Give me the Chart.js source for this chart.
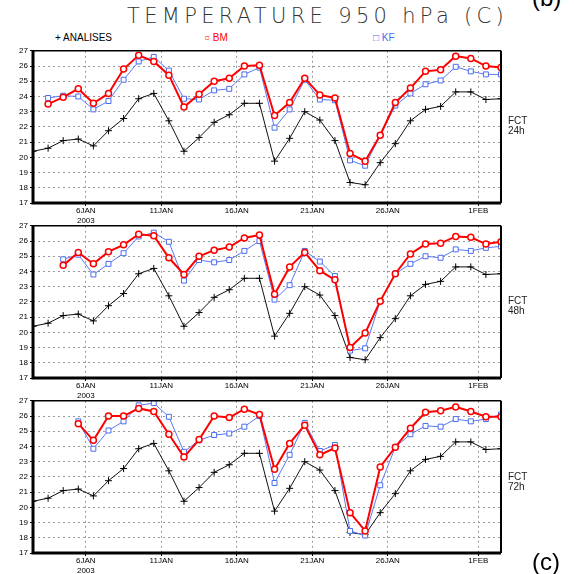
<!DOCTYPE html>
<html>
<head>
<meta charset="utf-8">
<script src="https://cdn.jsdelivr.net/npm/chart.js@4/dist/chart.umd.min.js"></script>
<style>
  body { margin: 0; background: #fff; }
  #page { position: relative; width: 574px; height: 574px; overflow: hidden; font-family: "Liberation Sans", Arial, sans-serif; }
  #page canvas { position: absolute; left: 0; }
  .txt { position: absolute; white-space: nowrap; }
  #title { left: 127px; top: 4px; font-family: "DejaVu Sans", sans-serif; font-weight: 200; font-size: 21px; color: #333; }
  .leg { top: 32px; font-size: 10px; }
  .fct { left: 508px; font-size: 10px; line-height: 10px; color: #222; }
</style>
</head>
<body>
<div id="page">
  <div id="title" class="txt">TEMPERATURE 950 hPa (C)</div>
  <div class="txt" style="left:532px; top:-16px; font-size:24px;">(b)</div>
  <div class="txt leg" style="left:55px; color:#000;">+ ANALISES</div>
  <div class="txt leg" style="left:204px; color:#f00;">&#9675; BM</div>
  <div class="txt leg" style="left:373px; color:#4a6cf0;">&#9633; KF</div>
  <canvas id="p24" width="520" height="181" style="top:44px"></canvas>
  <canvas id="p48" width="520" height="181" style="top:219px"></canvas>
  <canvas id="p72" width="520" height="181" style="top:394px"></canvas>
  <div class="txt fct" style="top:116px;">FCT<br>24h</div>
  <div class="txt fct" style="top:296px;">FCT<br>48h</div>
  <div class="txt fct" style="top:472px;">FCT<br>72h</div>
  <div class="txt" style="left:532px; top:548px; font-size:24px;">(c)</div>
</div>
<script>
// days of Jan 2003 at 12Z (Feb 1 = day 32)
const days = [2.5, 3.5, 4.5, 5.5, 6.5, 7.5, 8.5, 9.5, 10.5, 11.5, 12.5, 13.5, 14.5, 15.5, 16.5, 17.5,
              18.5, 19.5, 20.5, 21.5, 22.5, 23.5, 24.5, 25.5, 26.5, 27.5, 28.5, 29.5, 30.5, 31.5, 32.5, 33.5];
const tickDays = [6, 11, 16, 21, 26, 32];
const tickLabels = [['6JAN', '2003'], '11JAN', '16JAN', '21JAN', '26JAN', '1FEB'];

const analises = [20.4, 20.6, 21.1, 21.2, 20.75, 21.75, 22.55, 23.85, 24.2, 22.4, 20.4, 21.3, 22.3, 22.8, 23.55, 23.55,
                  19.75, 21.25, 23.0, 22.45, 21.1, 18.35, 18.2, 19.65, 20.9, 22.4, 23.15, 23.35, 24.3, 24.3, 23.8, 23.85];

const bm24 = [null, 23.5, 23.95, 24.5, 23.55, 24.2, 25.8, 26.7, 26.3, 25.4, 23.3, 24.15, 25.0, 25.2, 26.0, 26.05,
              22.75, 23.6, 25.2, 24.1, 23.9, 20.25, 19.75, 21.45, 23.6, 24.55, 25.65, 25.75, 26.65, 26.5, 26.0, 25.9];
const kf24 = [null, 23.9, 24.05, 24.0, 23.15, 23.7, 25.1, 26.3, 26.6, 25.7, 23.85, 23.8, 24.4, 24.5, 25.45, 25.9,
              21.95, 23.15, 25.1, 23.8, 23.75, 19.8, 19.45, 21.45, 23.4, 24.2, 24.8, 25.05, 25.95, 25.65, 25.45, 25.45];

const bm48 = [null, null, 24.4, 25.25, 24.5, 25.3, 25.75, 26.45, 26.35, 24.9, 23.8, 25.0, 25.4, 25.6, 26.2, 26.4,
              22.5, 24.3, 25.25, 24.05, 23.45, 19.0, 19.95, 22.05, 23.85, 25.15, 25.8, 25.85, 26.3, 26.25, 25.8, 25.95];
const kf48 = [null, null, 24.8, 25.1, 23.8, 24.5, 25.2, 26.3, 26.55, 25.95, 23.4, 24.75, 24.6, 24.75, 25.35, 26.0,
              22.15, 23.1, 25.35, 24.65, 23.7, 18.8, 18.95, 22.05, 23.85, 24.5, 25.0, 24.9, 25.45, 25.35, 25.55, 25.65];

const bm72 = [null, null, null, 25.5, 24.4, 26.0, 26.0, 26.5, 26.3, 24.8, 23.3, 24.45, 26.0, 25.9, 26.45, 26.1,
              22.5, 24.2, 25.4, 23.45, 23.9, 19.65, 18.45, 22.65, 23.95, 25.2, 26.25, 26.35, 26.6, 26.3, 25.95, 25.95];
const kf72 = [null, null, null, 25.65, 23.85, 25.05, 25.65, 26.7, 26.85, 25.95, 23.65, 24.4, 24.75, 24.85, 25.3, 26.0,
              21.6, 23.45, 25.55, 23.7, 24.1, 18.45, 18.15, 21.45, 23.95, 24.8, 25.35, 25.3, 25.8, 25.65, 25.8, 26.1];

// stretch the title letters to the width of the original
const title = document.getElementById('title');
const w0 = title.getBoundingClientRect().width;
title.style.letterSpacing = ((381 - w0) / 23).toFixed(2) + 'px';

const pts = vals => vals.map((v, i) => ({ x: days[i], y: v }));

// black frame round the plot, heavier on the left and bottom
const framePlugin = {
    id: 'frame',
    afterDatasetsDraw(chart) {
        const { ctx, chartArea: a } = chart;
        ctx.save();
        ctx.strokeStyle = '#000';
        ctx.lineWidth = 1.5;
        ctx.beginPath();
        ctx.moveTo(a.left, a.top); ctx.lineTo(a.right, a.top);
        ctx.stroke();
        ctx.lineWidth = 2;
        ctx.beginPath();
        ctx.moveTo(a.right, a.top); ctx.lineTo(a.right, a.bottom);
        ctx.stroke();
        ctx.lineWidth = 3;
        ctx.beginPath();
        ctx.moveTo(a.left, a.top); ctx.lineTo(a.left, a.bottom); ctx.lineTo(a.right, a.bottom);
        ctx.stroke();
        ctx.restore();
    }
};

function makePanel(id, bm, kf) {
    new Chart(document.getElementById(id), {
        type: 'line',
        data: {
            datasets: [
                {
                    label: 'BM', data: pts(bm), order: 1,
                    borderColor: '#f00', borderWidth: 2,
                    pointStyle: 'circle', pointRadius: 3, pointBorderWidth: 1.5,
                    pointBorderColor: '#f00', pointBackgroundColor: '#fff'
                },
                {
                    label: 'KF', data: pts(kf), order: 2,
                    borderColor: '#5a78f5', borderWidth: 1,
                    pointStyle: 'rect', pointRadius: 3.5, pointBorderWidth: 1,
                    pointBorderColor: '#4a6cf0', pointBackgroundColor: '#fff'
                },
                {
                    label: 'ANALISES', data: pts(analises), order: 3,
                    borderColor: '#111', borderWidth: 1,
                    pointStyle: 'cross', pointRadius: 3.5, pointBorderWidth: 1,
                    pointBorderColor: '#000'
                }
            ]
        },
        options: {
            responsive: false,
            animation: false,
            clip: 0,
            spanGaps: false,
            elements: { line: { tension: 0 } },
            layout: { padding: { top: 5, right: 19, left: 0, bottom: 0 } },
            plugins: { legend: { display: false }, tooltip: { enabled: false } },
            scales: {
                x: {
                    type: 'linear', min: 2.5, max: 33.5,
                    afterBuildTicks: s => { s.ticks = tickDays.map(v => ({ value: v })); },
                    afterFit: s => { s.height = 22; },
                    ticks: {
                        autoSkip: false, maxRotation: 0, padding: 0,
                        color: '#000', font: { family: 'Liberation Sans', size: 8 },
                        callback: v => tickLabels[tickDays.indexOf(v)]
                    },
                    grid: { color: '#999', lineWidth: 1, tickLength: 3, tickColor: '#000' },
                    border: { display: false, dash: [2, 3] }
                },
                y: {
                    min: 17, max: 27,
                    afterFit: s => { s.width = 33; },
                    ticks: {
                        stepSize: 1, padding: 2,
                        color: '#000', font: { family: 'Liberation Sans', size: 8 }
                    },
                    grid: { color: '#999', lineWidth: 1, tickLength: 3, tickColor: '#000' },
                    border: { display: false, dash: [2, 3] }
                }
            }
        },
        plugins: [framePlugin]
    });
}

makePanel('p24', bm24, kf24);
makePanel('p48', bm48, kf48);
makePanel('p72', bm72, kf72);
</script>
</body>
</html>
